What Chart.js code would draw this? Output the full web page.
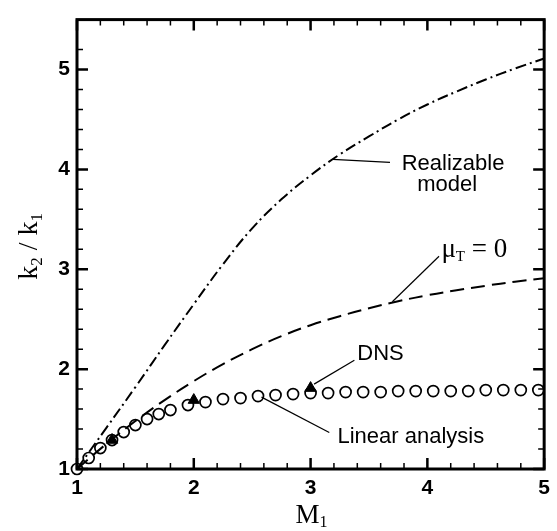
<!DOCTYPE html>
<html>
<head>
<meta charset="utf-8">
<script src="https://cdn.jsdelivr.net/npm/chart.js@4.4.1/dist/chart.umd.min.js"></script>
<style>
  body { margin: 0; background: #fff; }
</style>
</head>
<body>
<canvas id="k2Chart" width="557" height="531"></canvas>
<script>
// curves sampled off the figure
const curveM = [1, 1.25, 1.5, 1.75, 2, 2.25, 2.5, 2.75, 3, 3.25, 3.5, 3.75, 4, 4.25, 4.5, 4.75, 5];
const realizableK = [1, 1.41, 1.82, 2.24, 2.65, 3.05, 3.41, 3.70, 3.94, 4.15, 4.33, 4.50, 4.65, 4.78, 4.90, 5.01, 5.11];
const muT0K = [1, 1.25, 1.48, 1.69, 1.88, 2.05, 2.20, 2.33, 2.44, 2.53, 2.61, 2.68, 2.74, 2.79, 2.835, 2.875, 2.91];

// linear analysis (circles)
const linearM = [1.0, 1.1, 1.2, 1.3, 1.4, 1.5, 1.6, 1.7, 1.8, 1.95, 2.1, 2.25, 2.4, 2.55, 2.7,
                 2.85, 3.0, 3.15, 3.3, 3.45, 3.6, 3.75, 3.9, 4.05, 4.2, 4.35, 4.5, 4.65, 4.8, 4.95];
const linearK = [1.0, 1.11, 1.21, 1.29, 1.37, 1.44, 1.50, 1.55, 1.59, 1.64, 1.67, 1.70, 1.71, 1.73, 1.74,
                 1.75, 1.76, 1.76, 1.77, 1.77, 1.77, 1.78, 1.78, 1.78, 1.78, 1.78, 1.79, 1.79, 1.79, 1.79];

// DNS (filled triangles)
const dnsM = [1.3, 2.0, 3.0];
const dnsK = [1.29, 1.69, 1.81];

const xTicks = [1, 2, 3, 4, 5];
const yTicks = [1, 2, 3, 4, 5];

const SANS = '"Liberation Sans", Arial, sans-serif';
const SERIF = '"Liberation Serif", "Times New Roman", serif';

const pts = (xs, ys) => xs.map((x, i) => ({ x: x, y: ys[i] }));
const isStep = v => Math.abs(v / 0.2 - Math.round(v / 0.2)) < 1e-6;
const isMajor = (v, list) => list.some(t => Math.abs(t - v) < 1e-6);

// draws text pieces one after another (for subscripts)
function drawRich(ctx, parts, x, y, align) {
  let w = 0;
  parts.forEach(p => { ctx.font = p.font; w += ctx.measureText(p.t).width; });
  let cx = align === 'center' ? x - w / 2 : x;
  ctx.textAlign = 'left';
  ctx.textBaseline = 'alphabetic';
  parts.forEach(p => {
    ctx.font = p.font;
    ctx.fillText(p.t, cx, y + (p.dy || 0));
    cx += ctx.measureText(p.t).width;
  });
}

const framePlugin = {
  id: 'frame',
  afterDatasetsDraw(chart) {
    const { ctx, chartArea: a, scales: { x, y } } = chart;
    ctx.save();
    ctx.strokeStyle = '#000';
    ctx.fillStyle = '#000';

    // inward ticks on all four sides
    x.ticks.forEach(t => {
      if (!isStep(t.value)) return;
      const px = x.getPixelForValue(t.value);
      const major = isMajor(t.value, xTicks);
      ctx.lineWidth = major ? 2.5 : 1.5;
      ctx.beginPath();
      ctx.moveTo(px, a.bottom); ctx.lineTo(px, a.bottom - (major ? 11 : 6));
      ctx.moveTo(px, a.top); ctx.lineTo(px, a.top + (major ? 11 : 6));
      ctx.stroke();
    });
    y.ticks.forEach(t => {
      if (!isStep(t.value)) return;
      const py = y.getPixelForValue(t.value);
      const major = isMajor(t.value, yTicks);
      ctx.lineWidth = major ? 2.5 : 1.5;
      ctx.beginPath();
      ctx.moveTo(a.left, py); ctx.lineTo(a.left + (major ? 11 : 6), py);
      ctx.moveTo(a.right, py); ctx.lineTo(a.right - (major ? 11 : 6), py);
      ctx.stroke();
    });

    // frame
    ctx.lineWidth = 3;
    ctx.strokeRect(a.left, a.top, a.right - a.left, a.bottom - a.top);

    // leader lines
    const P = (m, k) => [x.getPixelForValue(m), y.getPixelForValue(k)];
    const leader = (m1, k1, m2, k2) => {
      const [x1, y1] = P(m1, k1), [x2, y2] = P(m2, k2);
      ctx.beginPath(); ctx.moveTo(x1, y1); ctx.lineTo(x2, y2); ctx.stroke();
    };
    ctx.lineWidth = 1.2;
    leader(3.19, 4.10, 3.68, 4.07);
    leader(3.70, 2.675, 4.10, 3.13);
    leader(3.375, 2.09, 3.03, 1.85);
    leader(2.58, 1.72, 3.16, 1.365);

    // annotation text
    ctx.textAlign = 'center';
    ctx.textBaseline = 'alphabetic';
    ctx.font = '22px ' + SANS;
    let p = P(4.22, 3.99); ctx.fillText('Realizable', p[0], p[1]);
    p = P(4.17, 3.78); ctx.fillText('model', p[0], p[1]);
    ctx.textAlign = 'left';
    p = P(3.40, 2.09); ctx.fillText('DNS', p[0], p[1]);
    p = P(3.23, 1.26); ctx.fillText('Linear analysis', p[0], p[1]);
    p = P(4.12, 3.12);
    drawRich(ctx, [
      { t: 'μ', font: '27px ' + SERIF },
      { t: 'T', font: '15px ' + SERIF, dy: 4 },
      { t: ' = 0', font: '27px ' + SERIF }
    ], p[0], p[1], 'left');

    // axis titles
    drawRich(ctx, [
      { t: 'M', font: '27px ' + SERIF },
      { t: '1', font: '16px ' + SERIF, dy: 4 }
    ], (a.left + a.right) / 2 + 1, 523, 'center');

    ctx.translate(37, (a.top + a.bottom) / 2 + 2);
    ctx.rotate(-Math.PI / 2);
    drawRich(ctx, [
      { t: 'k', font: '28px ' + SERIF },
      { t: '2', font: '17px ' + SERIF, dy: 5 },
      { t: ' / ', font: '28px ' + SERIF },
      { t: 'k', font: '28px ' + SERIF },
      { t: '1', font: '17px ' + SERIF, dy: 5 }
    ], 0, 0, 'center');
    ctx.restore();
  }
};

const tickLabel = list => v => (isMajor(v, list) ? String(Math.round(v)) : '');

new Chart(document.getElementById('k2Chart').getContext('2d'), {
  type: 'scatter',
  data: {
    datasets: [
      {
        label: 'Realizable model',
        data: pts(curveM, realizableK),
        showLine: true,
        borderColor: '#000',
        borderWidth: 2,
        borderDash: [11, 4, 2, 4],
        pointRadius: 0,
        tension: 0.4
      },
      {
        label: 'μT = 0',
        data: pts(curveM, muT0K),
        showLine: true,
        borderColor: '#000',
        borderWidth: 2,
        borderDash: [14, 7],
        pointRadius: 0,
        tension: 0.4
      },
      {
        label: 'Linear analysis',
        data: pts(linearM, linearK),
        pointStyle: 'circle',
        pointRadius: 5.5,
        pointBorderWidth: 1.7,
        borderColor: '#000',
        backgroundColor: 'rgba(0,0,0,0)',
        clip: false
      },
      {
        label: 'DNS',
        data: pts(dnsM, dnsK),
        pointStyle: 'triangle',
        pointRadius: 6.5,
        borderColor: '#000',
        backgroundColor: '#000'
      }
    ]
  },
  options: {
    responsive: false,
    animation: false,
    layout: { padding: { top: 10, right: 12, left: 0, bottom: 0 } },
    plugins: { legend: { display: false }, tooltip: { enabled: false } },
    scales: {
      x: {
        type: 'linear',
        min: 1,
        max: 5,
        grid: { display: false, drawTicks: false },
        border: { display: false },
        ticks: {
          stepSize: 0.2,
          autoSkip: false,
          maxRotation: 0,
          padding: 7,
          color: '#000',
          font: { family: SANS, size: 21, weight: 'bold' },
          callback: tickLabel(xTicks)
        },
        afterFit: s => { s.height = 62; }
      },
      y: {
        type: 'linear',
        min: 1,
        max: 5.5,
        grid: { display: false, drawTicks: false },
        border: { display: false },
        ticks: {
          stepSize: 0.2,
          autoSkip: false,
          padding: 7,
          color: '#000',
          font: { family: SANS, size: 21, weight: 'bold' },
          callback: tickLabel(yTicks)
        },
        afterFit: s => { s.width = 77; }
      }
    }
  },
  plugins: [framePlugin]
});
</script>
</body>
</html>
